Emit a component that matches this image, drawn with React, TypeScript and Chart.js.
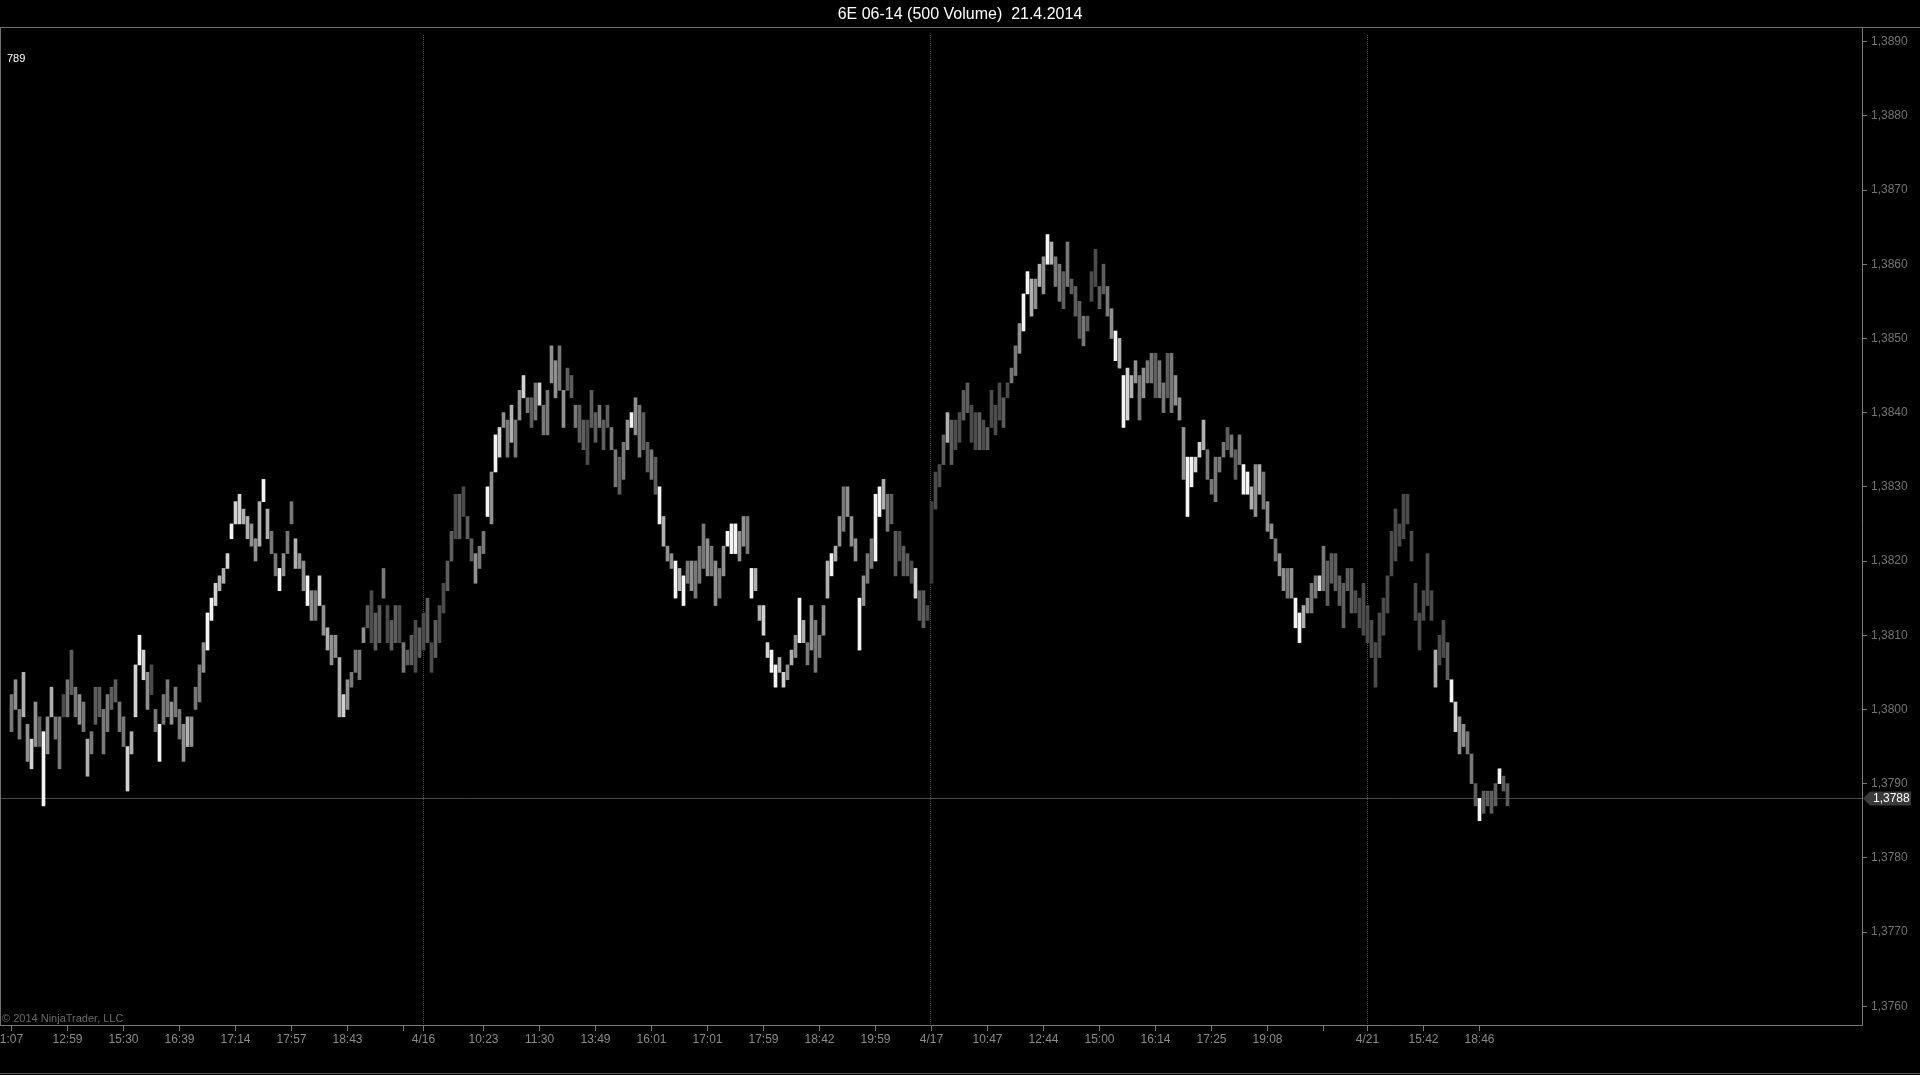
import React, { useEffect, useRef } from 'react';
import { Chart, registerables } from 'chart.js';

Chart.register(...registerables);

// ---- data (prices in pips: price = 1 + pips / 10000) ----
const TITLE = '6E 06-14 (500 Volume)  21.4.2014';

const barLowPips = [
  3797, 3800, 3796, 3799, 3793, 3792, 3795, 3795, 3787, 3794,
  3799, 3796, 3792, 3799, 3799, 3802, 3799, 3798, 3797, 3791,
  3794, 3798, 3799, 3794, 3797, 3800, 3801, 3797, 3795, 3789,
  3794, 3799, 3806, 3804, 3800, 3802, 3797, 3793, 3798, 3799,
  3798, 3799, 3796, 3793, 3795, 3795, 3800, 3801, 3805, 3808,
  3812, 3814, 3816, 3817, 3819, 3823, 3825, 3825, 3825, 3823,
  3822, 3820, 3822, 3828, 3823, 3821, 3818, 3816, 3818, 3821,
  3825, 3819, 3819, 3816, 3814, 3812, 3812, 3814, 3810, 3808,
  3806, 3807, 3799, 3799, 3800, 3803, 3805, 3804, 3809, 3811,
  3809, 3808, 3809, 3815, 3809, 3808, 3809, 3809, 3805, 3806,
  3806, 3805, 3807, 3808, 3809, 3805, 3807, 3809, 3813, 3816,
  3820, 3823, 3823, 3826, 3823, 3820, 3817, 3819, 3821, 3826,
  3825, 3832, 3834, 3838, 3834, 3836, 3834, 3839, 3842, 3840,
  3838, 3839, 3841, 3837, 3837, 3844, 3842, 3843, 3838, 3843,
  3842, 3838, 3836, 3835, 3833, 3838, 3836, 3838, 3835, 3838,
  3835, 3830, 3829, 3831, 3835, 3838, 3837, 3834, 3835, 3832,
  3831, 3829, 3825, 3822, 3820, 3819, 3815, 3816, 3814, 3817,
  3816, 3815, 3817, 3819, 3818, 3818, 3814, 3815, 3818, 3822,
  3821, 3821, 3820, 3822, 3821, 3815, 3816, 3812, 3810, 3807,
  3805, 3803, 3805, 3803, 3804, 3806, 3807, 3809, 3809, 3806,
  3808, 3805, 3807, 3810, 3815, 3818, 3820, 3822, 3824, 3826,
  3822, 3820, 3808, 3814, 3817, 3819, 3820, 3826, 3827, 3824,
  3825, 3818, 3820, 3818, 3818, 3817, 3815, 3812, 3811, 3812,
  3817, 3827, 3830, 3833, 3836, 3833, 3835, 3836, 3839, 3840,
  3836, 3835, 3835, 3835, 3835, 3838, 3837, 3839, 3838, 3842,
  3844, 3845, 3848, 3851, 3856, 3853, 3854, 3857, 3856, 3860,
  3860, 3857, 3855, 3854, 3857, 3856, 3853, 3850, 3849, 3851,
  3855, 3857, 3854, 3856, 3853, 3850, 3847, 3846, 3838, 3839,
  3842, 3844, 3839, 3842, 3844, 3844, 3842, 3842, 3840, 3842,
  3840, 3841, 3839, 3831, 3826, 3830, 3832, 3834, 3835, 3831,
  3829, 3828, 3832, 3834, 3835, 3834, 3831, 3833, 3829, 3829,
  3827, 3826, 3829, 3827, 3824, 3823, 3820, 3818, 3816, 3815,
  3815, 3811, 3809, 3811, 3813, 3813, 3815, 3816, 3816, 3814,
  3817, 3816, 3814, 3811, 3816, 3813, 3813, 3811, 3810, 3809,
  3807, 3803, 3807, 3810, 3813, 3818, 3820, 3822, 3823, 3825,
  3820, 3812, 3808, 3812, 3814, 3812, 3803, 3806, 3807, 3804,
  3801, 3797, 3794, 3795, 3794, 3790, 3787, 3785, 3786, 3787,
  3786, 3787, 3790, 3789, 3787,
];

const barHighPips = [
  3802, 3804, 3800, 3805, 3798, 3796, 3801, 3799, 3797, 3799,
  3803, 3799, 3799, 3802, 3804, 3808, 3803, 3802, 3801, 3796,
  3797, 3803, 3803, 3800, 3802, 3803, 3804, 3801, 3799, 3795,
  3797, 3806, 3810, 3808, 3805, 3806, 3800, 3798, 3802, 3804,
  3801, 3803, 3800, 3798, 3799, 3799, 3803, 3806, 3809, 3813,
  3815, 3817, 3818, 3819, 3821, 3825, 3828, 3829, 3827, 3826,
  3825, 3823, 3828, 3831, 3827, 3824, 3821, 3819, 3821, 3824,
  3828, 3823, 3821, 3820, 3818, 3816, 3816, 3818, 3814, 3811,
  3810, 3810, 3807, 3802, 3804, 3805, 3808, 3808, 3811, 3814,
  3816, 3813, 3814, 3819, 3814, 3812, 3814, 3814, 3809, 3808,
  3810, 3812, 3811, 3813, 3815, 3809, 3812, 3814, 3817, 3820,
  3824, 3829, 3829, 3830, 3826, 3823, 3821, 3822, 3824, 3830,
  3832, 3837, 3838, 3840, 3839, 3841, 3839, 3843, 3845, 3842,
  3842, 3844, 3844, 3841, 3843, 3849, 3847, 3849, 3843, 3846,
  3845, 3841, 3841, 3839, 3839, 3843, 3840, 3841, 3839, 3841,
  3838, 3835, 3834, 3836, 3839, 3840, 3842, 3841, 3840, 3836,
  3835, 3834, 3830, 3826, 3822, 3821, 3820, 3819, 3818, 3820,
  3820, 3820, 3822, 3825, 3823, 3822, 3820, 3819, 3822, 3824,
  3825, 3825, 3824, 3826, 3826, 3819, 3819, 3814, 3814, 3809,
  3808, 3806, 3807, 3805, 3806, 3808, 3810, 3815, 3812, 3809,
  3814, 3812, 3810, 3814, 3820, 3821, 3822, 3826, 3830, 3830,
  3826, 3823, 3815, 3818, 3821, 3823, 3829, 3830, 3831, 3829,
  3829, 3824, 3824, 3822, 3821, 3820, 3819, 3816, 3816, 3814,
  3828, 3832, 3833, 3837, 3840, 3839, 3839, 3840, 3843, 3844,
  3841, 3840, 3840, 3839, 3838, 3843, 3841, 3844, 3842, 3844,
  3846, 3849, 3852, 3856, 3859, 3858, 3858, 3860, 3861, 3864,
  3863, 3861, 3860, 3859, 3863, 3858, 3857, 3855, 3853, 3853,
  3859, 3862, 3857, 3860, 3857, 3854, 3851, 3850, 3845, 3846,
  3845, 3847, 3845, 3846, 3847, 3848, 3848, 3847, 3844, 3848,
  3848, 3845, 3842, 3838, 3834, 3834, 3834, 3836, 3839, 3835,
  3831, 3834, 3834, 3836, 3838, 3837, 3835, 3837, 3833, 3832,
  3830, 3833, 3833, 3832, 3828, 3825, 3823, 3821, 3819, 3819,
  3819, 3815, 3813, 3814, 3815, 3817, 3818, 3818, 3822, 3820,
  3821, 3821, 3818, 3817, 3819, 3819, 3816, 3815, 3817, 3814,
  3812, 3809, 3813, 3815, 3818, 3824, 3827, 3825, 3829, 3829,
  3824, 3817, 3813, 3816, 3821, 3816, 3808, 3810, 3812, 3809,
  3804, 3801, 3799, 3798, 3797, 3794, 3790, 3788, 3789, 3789,
  3789, 3790, 3792, 3791, 3790,
];

// brightness class of each bar (1 = darkest, 9 = white)
const barShade = [
  5, 6, 5, 7, 6, 8, 6, 4, 9, 6,
  7, 5, 5, 3, 5, 4, 5, 6, 5, 7,
  5, 4, 4, 5, 5, 4, 4, 5, 5, 8,
  7, 8, 9, 8, 6, 3, 5, 9, 5, 5,
  6, 5, 5, 6, 7, 6, 5, 5, 6, 9,
  9, 8, 7, 7, 8, 9, 8, 8, 7, 7,
  6, 6, 7, 9, 7, 5, 5, 9, 6, 5,
  5, 7, 6, 6, 9, 6, 5, 8, 6, 7,
  6, 6, 7, 8, 6, 5, 5, 5, 6, 4,
  3, 4, 4, 5, 3, 4, 4, 3, 5, 4,
  4, 3, 4, 3, 4, 3, 4, 3, 3, 4,
  4, 3, 4, 3, 4, 4, 6, 5, 5, 9,
  6, 9, 8, 6, 5, 7, 5, 6, 8, 5,
  4, 5, 8, 5, 5, 6, 6, 5, 6, 4,
  4, 5, 4, 4, 3, 4, 4, 5, 4, 4,
  5, 5, 4, 5, 6, 9, 6, 5, 4, 4,
  5, 4, 9, 7, 6, 6, 9, 7, 9, 5,
  6, 5, 5, 5, 6, 5, 6, 5, 6, 9,
  9, 9, 6, 6, 5, 9, 7, 7, 8, 8,
  9, 9, 7, 8, 6, 7, 6, 9, 7, 5,
  6, 5, 5, 6, 7, 9, 7, 6, 5, 6,
  6, 6, 9, 6, 5, 5, 9, 9, 7, 5,
  4, 4, 3, 4, 4, 3, 8, 4, 4, 3,
  2, 3, 3, 4, 7, 4, 3, 3, 4, 4,
  3, 3, 4, 3, 4, 3, 3, 3, 4, 3,
  5, 5, 6, 9, 9, 7, 6, 7, 6, 9,
  7, 5, 5, 4, 5, 4, 4, 4, 5, 4,
  3, 3, 4, 4, 5, 6, 9, 7, 9, 8,
  7, 6, 5, 6, 5, 5, 4, 5, 5, 4,
  5, 6, 6, 6, 9, 9, 8, 8, 7, 5,
  5, 5, 5, 5, 4, 5, 4, 5, 9, 9,
  7, 6, 7, 5, 6, 6, 5, 6, 6, 5,
  6, 9, 9, 7, 6, 5, 5, 8, 5, 4,
  4, 4, 4, 4, 4, 4, 3, 3, 3, 3,
  3, 3, 3, 3, 3, 3, 3, 3, 3, 3,
  3, 3, 3, 3, 3, 3, 7, 3, 3, 4,
  9, 8, 6, 6, 5, 5, 4, 9, 4, 4,
  4, 4, 9, 4, 4,
];

const priceTicks = [
  1.376, 1.377, 1.378, 1.379, 1.38, 1.381, 1.382,
  1.383, 1.384, 1.385, 1.386, 1.387, 1.388, 1.389,
];

const timeTickBars = [
  0, 14, 28, 42, 56, 70, 84, 98, 103, 118, 132, 146, 160, 174,
  188, 202, 216, 230, 244, 258, 272, 286, 300, 314, 328, 339, 353, 367,
];
const timeTickLabels = [
  '1:07', '12:59', '15:30', '16:39', '17:14', '17:57', '18:43', '', '4/16',
  '10:23', '11:30', '13:49', '16:01', '17:01', '17:59', '18:42', '19:59', '4/17',
  '10:47', '12:44', '15:00', '16:14', '17:25', '19:08', '', '4/21', '15:42', '18:46',
];
const sessionStartBars = [103, 230, 339];
const lastPrice = 1.3788;
const barCounter = '789';
const copyrightText = '\u00a9 2014 NinjaTrader, LLC';

const SHADES = [
  '#000000', '#2e2e2e', '#3c3c3c', '#4c4c4c', '#5e5e5e',
  '#787878', '#909090', '#b0b0b0', '#d2d2d2', '#f4f4f4',
];
const FONT = "'Liberation Sans', Arial, sans-serif";
const fmtPrice = (v: number) => v.toFixed(4).replace('.', ',');

export default function App() {
  const canvasRef = useRef<HTMLCanvasElement | null>(null);

  useEffect(() => {
    document.body.style.margin = '0';
    document.body.style.background = '#000';
    const canvas = canvasRef.current;
    if (!canvas) return;

    const decor = {
      id: 'decor',
      beforeDraw(chart: any) {
        const { ctx, width, height } = chart;
        ctx.save();
        ctx.fillStyle = '#000';
        ctx.fillRect(0, 0, width, height);
        ctx.restore();
      },
      beforeDatasetsDraw(chart: any) {
        const { ctx, chartArea, scales } = chart;
        ctx.save();
        // session separators
        ctx.strokeStyle = '#4a4a4a';
        ctx.lineWidth = 1;
        ctx.setLineDash([1, 1]);
        sessionStartBars.forEach((b) => {
          const x = Math.round(scales.x.getPixelForValue(b)) - 0.5;
          ctx.beginPath();
          ctx.moveTo(x, chartArea.top + 8);
          ctx.lineTo(x, chartArea.bottom);
          ctx.stroke();
        });
        ctx.setLineDash([]);
        // last price line
        const y = Math.round(scales.y.getPixelForValue(lastPrice)) + 0.5;
        ctx.strokeStyle = '#474747';
        ctx.beginPath();
        ctx.moveTo(chartArea.left, y);
        ctx.lineTo(chartArea.right, y);
        ctx.stroke();
        ctx.restore();
      },
      afterDraw(chart: any) {
        const { ctx, chartArea, scales, width, height } = chart;
        ctx.save();
        ctx.strokeStyle = '#707070';
        ctx.lineWidth = 1;
        // top separator under title
        ctx.beginPath();
        ctx.moveTo(0, chartArea.top + 0.5);
        ctx.lineTo(width, chartArea.top + 0.5);
        ctx.stroke();
        // left border
        ctx.beginPath();
        ctx.moveTo(0.5, chartArea.top);
        ctx.lineTo(0.5, chartArea.bottom);
        ctx.stroke();
        // window bottom edge
        ctx.strokeStyle = '#5a5a5a';
        ctx.beginPath();
        ctx.moveTo(0, height - 1.5);
        ctx.lineTo(width, height - 1.5);
        ctx.stroke();

        // bar counter & copyright
        ctx.font = `11px ${FONT}`;
        ctx.textBaseline = 'middle';
        ctx.textAlign = 'left';
        ctx.fillStyle = '#ffffff';
        ctx.fillText(barCounter, 7, 59);
        ctx.fillStyle = '#6a6a6a';
        ctx.fillText(copyrightText, 2, chartArea.bottom - 6);

        // last price marker on the axis
        const y = Math.round(scales.y.getPixelForValue(lastPrice)) + 0.5;
        const x0 = chartArea.right + 1;
        ctx.fillStyle = '#3a3a3a';
        ctx.beginPath();
        ctx.moveTo(x0, y);
        ctx.lineTo(x0 + 7, y - 7);
        ctx.lineTo(x0 + 48, y - 7);
        ctx.lineTo(x0 + 48, y + 7);
        ctx.lineTo(x0 + 7, y + 7);
        ctx.closePath();
        ctx.fill();
        ctx.font = `12px ${FONT}`;
        ctx.fillStyle = '#ffffff';
        ctx.fillText(fmtPrice(lastPrice), x0 + 10, y + 0.5);
        ctx.restore();
      },
    };

    const chart = new Chart(canvas, {
      type: 'bar',
      data: {
        datasets: [
          {
            data: barLowPips.map((lo, i) => ({
              x: i,
              y: [1 + lo / 10000, 1 + barHighPips[i] / 10000],
            })) as any,
            backgroundColor: barShade.map((s) => SHADES[s]),
            borderWidth: 0,
            barThickness: 3,
            grouped: false,
          } as any,
        ],
      },
      options: {
        responsive: false,
        devicePixelRatio: 1,
        animation: false,
        events: [],
        layout: { padding: 0 },
        plugins: {
          legend: { display: false },
          tooltip: { enabled: false },
          title: {
            display: true,
            text: TITLE,
            color: '#ffffff',
            font: { family: FONT, size: 16, weight: 'normal', lineHeight: 1.125 },
            padding: { top: 6, bottom: 3 },
          },
        },
        scales: {
          x: {
            type: 'linear',
            position: 'bottom',
            offset: false,
            min: -2.875,
            max: 462.625,
            grid: {
              offset: false,
              drawOnChartArea: false,
              drawTicks: true,
              tickLength: 6,
              color: '#7a7a7a',
            },
            border: { display: true, color: '#7a7a7a', width: 1 },
            ticks: {
              autoSkip: false,
              maxRotation: 0,
              minRotation: 0,
              padding: 1,
              color: '#8a8a8a',
              font: { family: FONT, size: 12 },
              callback: (_v: any, idx: number) => timeTickLabels[idx] ?? '',
            },
            afterBuildTicks: (scale: any) => {
              scale.ticks = timeTickBars.map((v) => ({ value: v }));
            },
            afterFit: (scale: any) => {
              scale.height = 50;
              scale.paddingLeft = 0;
              scale.paddingRight = 0;
            },
          },
          y: {
            type: 'linear',
            position: 'right',
            min: 1.375747,
            max: 1.389197,
            grid: {
              drawOnChartArea: false,
              drawTicks: true,
              tickLength: 5,
              color: '#7a7a7a',
            },
            border: { display: true, color: '#7a7a7a', width: 1 },
            ticks: {
              padding: 4,
              color: '#737373',
              font: { family: FONT, size: 12 },
              callback: (v: any) => fmtPrice(Number(v)),
            },
            afterBuildTicks: (scale: any) => {
              scale.ticks = priceTicks.map((v) => ({ value: v }));
            },
            afterFit: (scale: any) => {
              scale.width = 58;
              scale.paddingTop = 0;
              scale.paddingBottom = 0;
            },
          },
        },
      } as any,
      plugins: [decor],
    });

    return () => chart.destroy();
  }, []);

  return (
    <div style={{ width: 1920, height: 1075, background: '#000', position: 'relative' }}>
      <canvas ref={canvasRef} width={1920} height={1075} style={{ display: 'block' }} />
    </div>
  );
}
